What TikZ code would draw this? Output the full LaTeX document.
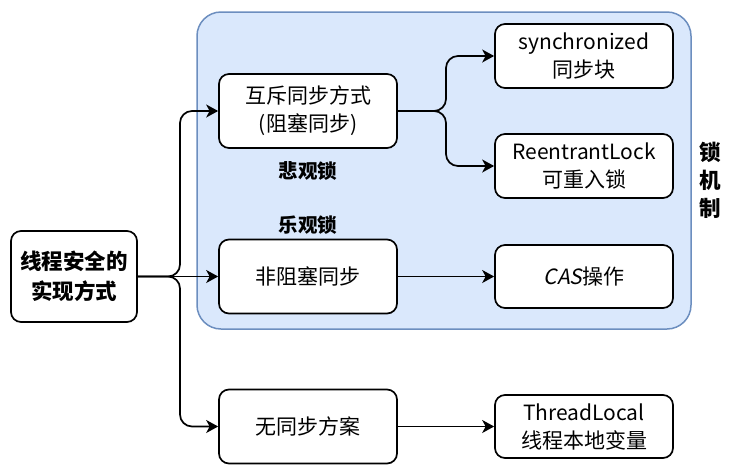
\documentclass[tikz,border=0pt]{standalone}
\usepackage{fontspec}
\setmainfont{Noto Sans CJK SC}
\newfontfamily\slantfont[FakeSlant=0.2]{Noto Sans CJK SC}
\usetikzlibrary{arrows.meta}
\definecolor{grpfill}{HTML}{DAE8FC}
\definecolor{grpline}{HTML}{6C8EBF}
\begin{document}
\begin{tikzpicture}[x=1pt,y=-1pt,
  box/.style={draw=black, line width=1.7pt, fill=white, rounded corners=10pt,
    minimum width=178pt, minimum height=74pt, inner sep=0pt, align=center,
    font=\fontsize{21}{28}\selectfont},
  rbox/.style={box, minimum height=64pt},
  lbl/.style={font=\bfseries\fontsize{19.5}{24}\selectfont, inner sep=0pt},
  conn/.style={draw=black, line width=1.7pt, rounded corners=12pt,
    -{Stealth[length=12pt,width=13pt,inset=3.5pt]}}
]
\useasboundingbox (0,0) rectangle (748,472);
% group container
\node[draw=grpline, fill=grpfill, line width=1.5pt, rounded corners=24pt,
  minimum width=494pt, minimum height=317pt, inner sep=0pt] (grp) at (444,170.5) {};
% nodes
\node[box, minimum width=126pt, minimum height=91pt, font=\bfseries\fontsize{21.5}{30}\selectfont] (root) at (74,276.5) {线程安全的\\实现方式};
\node[box] (mutex) at (308,111) {互斥同步方式\\(阻塞同步)};
\node[box] (nonblock) at (308,276.5) {非阻塞同步};
\node[box] (nosync) at (308,426.5) {无同步方案};
\node[rbox] (sync) at (584,56) {synchronized\\同步块};
\node[rbox] (reent) at (584,166) {ReentrantLock\\可重入锁};
\node[rbox, minimum height=63pt] (cas) at (584,276.5) {{\slantfont CAS}操作};
\node[rbox, minimum height=63pt] (tl) at (584,426.5) {ThreadLocal\\线程本地变量};
% labels
\node[lbl] (pess) at (308,171) {悲观锁};
\node[lbl] (opt) at (308,225) {乐观锁};
\node[font=\bfseries\fontsize{21.5}{28}\selectfont, align=center, inner sep=0pt] (lockmech) at (710,180) {锁\\机\\制};
% connectors
\coordinate (j1) at (180,276.5);
\coordinate (j2) at (446,111);
\draw[conn] (root.east) -- (j1) |- (mutex.west);
\draw[conn] (root.east) -- (nonblock.west);
\draw[conn] (root.east) -- (j1) |- (nosync.west);
\draw[conn] (mutex.east) -- (j2) |- (sync.west);
\draw[conn] (mutex.east) -- (j2) |- (reent.west);
\draw[conn] (nonblock.east) -- (cas.west);
\draw[conn] (nosync.east) -- (tl.west);
\end{tikzpicture}
\end{document}
